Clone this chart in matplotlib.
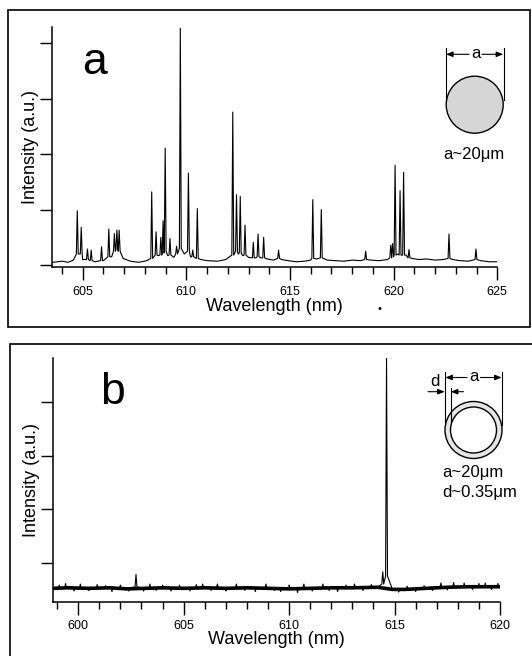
import matplotlib
matplotlib.use("Agg")
import matplotlib.pyplot as plt
import numpy as np
from matplotlib.patches import Circle, Rectangle, FancyArrowPatch
from matplotlib.lines import Line2D

plt.rcParams["font.family"] = ["Liberation Sans", "DejaVu Sans"]
plt.rcParams["hatch.color"] = "#9c9c9c"
plt.rcParams["hatch.linewidth"] = 0.6

# ---- panel a: disk, multimode spectrum ----
A_XMIN, A_XMAX = 603.52, 625.0
A_TICKS = [605, 610, 615, 620, 625]
A_PEAK_NM = [604.74, 604.93, 605.23, 605.41, 605.91, 606.26, 606.53, 606.65, 606.76,
             608.33, 608.54, 608.77, 608.88, 608.98, 609.21, 609.53, 609.71, 610.10,
             610.31, 610.53, 612.24, 612.42, 612.60, 612.83, 613.23, 613.46, 613.73,
             614.45, 616.10, 616.51, 618.65, 619.86, 619.95, 620.07, 620.31, 620.48,
             620.74, 622.67, 623.97]
A_PEAK_TOP = [0.98, 0.68, 0.29, 0.27, 0.33, 0.65, 0.57, 0.63, 0.63,
              1.32, 0.60, 0.50, 0.80, 2.11, 0.48, 0.34, 4.27, 1.66,
              0.27, 1.02, 2.76, 1.27, 1.24, 0.72, 0.41, 0.56, 0.50,
              0.27, 1.18, 1.00, 0.25, 0.36, 0.39, 1.80, 1.34, 1.67,
              0.28, 0.56, 0.29]
A_PEAK_FOOT = [0.20, 0.20, 0.10, 0.08, 0.08, 0.15, 0.25, 0.28, 0.25,
               0.12, 0.18, 0.18, 0.22, 0.25, 0.18, 0.20, 0.30, 0.25,
               0.15, 0.12, 0.18, 0.25, 0.22, 0.18, 0.13, 0.15, 0.13,
               0.12, 0.12, 0.13, 0.10, 0.13, 0.15, 0.18, 0.18, 0.18,
               0.13, 0.12, 0.10]
A_BASE_NM = [603.52, 603.8, 604.0, 604.3, 604.55, 605.0, 605.6, 606.0, 606.4, 606.95,
             607.3, 607.7, 608.1, 608.65, 609.1, 609.4, 609.9, 610.2, 610.7, 611.0,
             611.5, 611.9, 612.5, 612.72, 613.0, 613.35, 613.6, 613.9, 614.2, 614.6,
             614.9, 615.3, 615.7, 616.0, 616.3, 616.8, 617.2, 617.6, 618.0, 618.4,
             618.9, 619.3, 619.7, 620.2, 620.6, 620.9, 621.2, 621.6, 622.0, 622.4,
             622.85, 623.2, 623.6, 624.2, 624.6, 625.0]
A_BASE_VAL = [0.05, 0.06, 0.07, 0.05, 0.09, 0.10, 0.06, 0.08, 0.15, 0.12,
              0.07, 0.05, 0.08, 0.17, 0.17, 0.14, 0.20, 0.15, 0.10, 0.08,
              0.07, 0.10, 0.20, 0.17, 0.14, 0.13, 0.13, 0.11, 0.09, 0.10,
              0.08, 0.06, 0.07, 0.09, 0.11, 0.09, 0.08, 0.07, 0.09, 0.08,
              0.09, 0.08, 0.10, 0.20, 0.18, 0.12, 0.10, 0.11, 0.09, 0.10,
              0.10, 0.08, 0.07, 0.08, 0.06, 0.06]

# ---- panel b: ring (thin shell), single-mode spectrum ----
B_XMIN, B_XMAX = 598.79, 620.0
B_TICKS = [600, 605, 610, 615, 620]
B_PEAK_NM = [602.74, 614.44, 614.62]
B_PEAK_TOP = [0.78, 0.83, 4.83]
B_PEAK_FOOT = [0.55, 0.60, 0.75]
B_BASE_NM = [598.79, 599.5, 600.5, 601.5, 602.3, 603.2, 604.0, 605.0, 606.0, 607.0,
             608.0, 609.0, 610.0, 611.0, 612.0, 613.0, 614.2, 614.9, 615.5, 616.5,
             617.5, 618.5, 619.5, 620.0]
B_BASE_VAL = [0.52, 0.53, 0.52, 0.53, 0.51, 0.52, 0.53, 0.52, 0.53, 0.52,
              0.53, 0.52, 0.51, 0.52, 0.53, 0.53, 0.54, 0.50, 0.50, 0.52,
              0.54, 0.55, 0.55, 0.55]
# noise spikes on the baseline of panel b
B_SPIKE_NM = [599.1, 599.4, 599.8, 600.1, 600.5, 600.9, 601.3, 601.6, 602.0, 602.4,
              603.1, 603.4, 603.7, 604.0, 604.4, 604.8, 605.3, 605.6, 605.9, 606.3,
              606.6, 607.0, 607.5, 607.9, 608.4, 608.9, 609.3, 609.6, 610.0, 610.4,
              610.7, 611.1, 611.6, 611.9, 612.3, 612.7, 613.1, 613.5, 613.9, 615.2,
              615.6, 616.0, 616.4, 616.8, 617.2, 617.5, 617.8, 618.3, 618.7, 619.0,
              619.3, 619.6, 619.9]
B_SPIKE_VAL = [0.58, 0.61, 0.47, 0.60, 0.48, 0.59, 0.57, 0.46, 0.58, 0.47,
               0.47, 0.60, 0.48, 0.58, 0.47, 0.58, 0.47, 0.59, 0.60, 0.48,
               0.60, 0.47, 0.60, 0.48, 0.46, 0.60, 0.48, 0.46, 0.58, 0.44,
               0.60, 0.47, 0.60, 0.48, 0.46, 0.58, 0.60, 0.48, 0.59, 0.45,
               0.56, 0.46, 0.57, 0.48, 0.62, 0.49, 0.63, 0.62, 0.50, 0.61,
               0.62, 0.50, 0.61]
B_SPIKE_FOOT = [0.52] * 17 + [0.53] * 22 + [0.51] * 4 + [0.54] * 10

W, H = 532, 656
fig = plt.figure(figsize=(W / 100, H / 100), dpi=100)


def rect(left, top, right, bottom):
    return [left / W, 1 - bottom / H, (right - left) / W, (bottom - top) / H]


def trace(base_nm, base_val, groups):
    xs = list(base_nm)
    ys = list(base_val)
    for nm, top, foot, hw in groups:
        for c, t, f in zip(nm, top, foot):
            xs += [c - hw, c, c + hw]
            ys += [f, t, f]
    order = np.argsort(xs, kind="stable")
    return np.array(xs)[order], np.array(ys)[order]


def style_axis(ax, xmin, xmax, ymin, ymax, xticks, yticks, lab_y):
    ax.set_xlim(xmin, xmax)
    ax.set_ylim(ymin, ymax)
    for s in ["top", "right"]:
        ax.spines[s].set_visible(False)
    for s in ["left", "bottom"]:
        ax.spines[s].set_linewidth(1.1)
    ax.set_xticks(xticks)
    ax.set_xticks(np.arange(int(np.ceil(xmin)), xmax + 0.01, 1), minor=True)
    ax.set_yticks(yticks)
    ax.set_yticklabels([])
    ax.tick_params(axis="x", which="major", direction="out", length=9, width=1.0,
                   labelsize=9, pad=4.5)
    ax.tick_params(axis="x", which="minor", direction="out", length=5, width=1.0)
    ax.tick_params(axis="y", which="major", direction="out", length=9, width=1.0)
    ax.set_xlabel("Wavelength (nm)", fontsize=13, va="center")
    ax.xaxis.set_label_coords(0.5, lab_y)
    ax.set_ylabel("Intensity (a.u.)", fontsize=13, va="center")
    ax.yaxis.set_label_coords(-0.048, 0.5)


# panel a
axa = fig.add_axes(rect(52, 26.7, 497.3, 267.3))
xa, ya = trace(A_BASE_NM, A_BASE_VAL, [(A_PEAK_NM, A_PEAK_TOP, A_PEAK_FOOT, 0.045)])
axa.plot(xa, ya, color="black", lw=0.8)
style_axis(axa, A_XMIN, A_XMAX, -0.04, 4.30, A_TICKS, [0, 1, 2, 3, 4], -0.163)

# panel b
axb = fig.add_axes(rect(52.7, 358, 500, 601.7))
axb.plot(B_BASE_NM, B_BASE_VAL, color="black", lw=2.6, solid_joinstyle="round")
xb, yb = trace(B_BASE_NM, B_BASE_VAL,
               [(B_PEAK_NM, B_PEAK_TOP, B_PEAK_FOOT, 0.045),
                (B_SPIKE_NM, B_SPIKE_VAL, B_SPIKE_FOOT, 0.04)])
axb.plot(xb, yb, color="black", lw=0.8)
style_axis(axb, B_XMIN, B_XMAX, 0.27, 4.83, B_TICKS, [1, 2, 3, 4], -0.157)

# ---- panel frames and letters (figure pixel coordinates) ----
inch = fig.dpi_scale_trans


def P(x, y):
    return (x / 100, (H - y) / 100)


def box(left, top, right, bottom):
    fig.add_artist(Rectangle(P(left, bottom), (right - left) / 100, (bottom - top) / 100,
                             transform=inch, fill=False, lw=1.2, ec="black"))


box(8, 10, 530, 327)
box(10, 344, 545, 660)

fig.text(*P(95, 63), "a", transform=inch, fontsize=32, ha="center", va="center")
fig.text(*P(112, 393), "b", transform=inch, fontsize=32, ha="center", va="center")
fig.text(*P(380, 309), "\u2022", transform=inch, fontsize=8, ha="center", va="center")


def seg(x0, y0, x1, y1, lw=0.8):
    fig.add_artist(Line2D([x0 / 100, x1 / 100], [(H - y0) / 100, (H - y1) / 100],
                          transform=inch, color="black", lw=lw))


def arrow(x0, y0, x1, y1):
    fig.add_artist(FancyArrowPatch(P(x0, y0), P(x1, y1), transform=inch,
                                   arrowstyle="-|>,head_length=4,head_width=1.6",
                                   color="black", lw=0.8, shrinkA=0, shrinkB=0))


# inset a: stippled disk
fig.add_artist(Circle(P(474.7, 104.7), 28.5 / 100, transform=inch,
                      fc="#d6d6d6", ec="none", hatch="......", lw=0))
fig.add_artist(Circle(P(474.7, 104.7), 28.5 / 100, transform=inch,
                      fill=False, ec="black", lw=1.0))
seg(445.7, 48, 445.7, 100)
seg(503.5, 48, 503.5, 100)
arrow(469, 54.3, 446, 54.3)
arrow(482, 54.3, 503.2, 54.3)
fig.text(*P(475.7, 53.5), "a", transform=inch, fontsize=12, ha="center", va="center")
fig.text(*P(443.5, 154), "a~20\u03bcm", transform=inch, fontsize=12, ha="left", va="center")

# inset b: thin shell
cx, cy = 473.5, 430
fig.add_artist(Circle(P(cx, cy), 28.5 / 100, transform=inch,
                      fc="#e6e6e6", ec="black", lw=1.0))
fig.add_artist(Circle(P(cx, cy), 23.0 / 100, transform=inch,
                      fc="white", ec="black", lw=1.0))
seg(445.0, 372, 445.0, 425)
seg(450.5, 388, 450.5, 422)
seg(502.0, 372, 502.0, 425)
arrow(467, 377.5, 445.3, 377.5)
arrow(480.5, 377.5, 501.7, 377.5)
fig.text(*P(473.8, 376.7), "a", transform=inch, fontsize=12, ha="center", va="center")
fig.text(*P(435, 381), "d", transform=inch, fontsize=12, ha="center", va="center")
arrow(428, 391.7, 444.7, 391.7)
arrow(463.5, 391.7, 450.8, 391.7)
fig.text(*P(442.5, 473), "a~20\u03bcm", transform=inch, fontsize=12, ha="left", va="center")
fig.text(*P(442.5, 492), "d~0.35\u03bcm", transform=inch, fontsize=12, ha="left", va="center")

fig.savefig("out.png", dpi=100, facecolor="white")
